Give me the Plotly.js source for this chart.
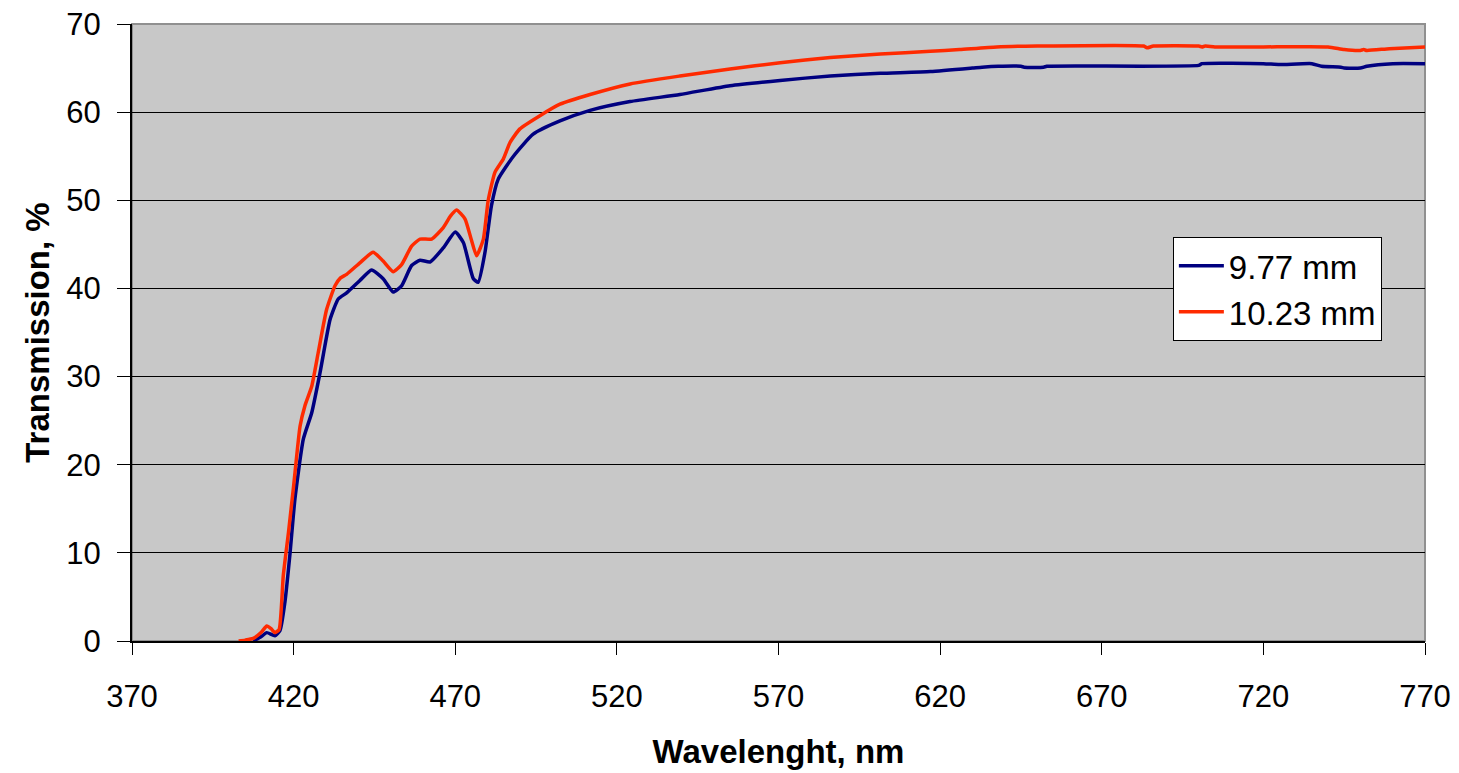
<!DOCTYPE html>
<html>
<head>
<meta charset="utf-8">
<script src="https://cdn.plot.ly/plotly-3.0.1.min.js"></script>
<style>html,body{margin:0;padding:0;background:#fff;}#chart{width:1459px;height:773px;}</style>
</head>
<body>
<div id="chart"></div>
<script>
var seriesNames = ["9.77 mm", "10.23 mm"];

var blueX = [407.5,410,411.7,414.2,415.8,417.3,418.9,420.4,423,425.6,428.2,431.3,433.8,436.4,440.5,444.1,447.7,450.8,453.4,456.5,459.1,462.2,466.3,470,472.5,475.6,477.1,479.2,481.2,483.3,488,494.1,502.4,511.7,524.1,539.5,555,570.5,586,601.5,617,630,633,638,645,646,652,653,700,701,720,725,735,738,744,745,750,752,760,770];
var blueY = [0,0.5,0.95,0.6,1.2,4.4,10,16.1,22.9,25.9,30.5,36.5,38.8,39.5,40.9,42.1,41.1,39.6,40.3,42.6,43.2,43.0,44.6,46.4,45.2,41.1,40.7,44.1,49.4,52.4,55.0,57.5,59.0,60.2,61.2,62.0,63.0,63.6,64.1,64.4,64.6,65.0,65.1,65.2,65.2,65.1,65.1,65.2,65.3,65.5,65.5,65.4,65.5,65.2,65.1,65.0,65.0,65.2,65.5,65.5];

var redX = [403,405,407.5,410,411.7,413,414.2,415.5,416.8,418.4,420,422,423.5,425.6,427.6,430.2,432.8,434.5,436.4,440.5,444.6,447.7,450.8,453.4,456.5,459.1,462.7,466.3,468.5,470.4,473,475,476.6,478.7,480.2,482.3,484.9,487,490,496.2,502.4,511.7,524.1,539.5,555,570.5,586,601.5,617,626,637.5,650,683,684,686,700,701,702,705,720,740,745,750,751,752,759,770];
var redY = [0,0.1,0.3,1.0,1.7,1.4,0.95,1.3,7.4,12.3,17.6,24.4,26.7,28.9,32.7,37.6,40.3,41.2,41.6,42.9,44.1,43.1,41.9,42.7,44.8,45.6,45.6,46.9,48.2,48.9,47.9,45.5,43.7,45.6,50,53.2,54.7,56.6,58.1,59.6,60.9,62.0,63.2,64.1,64.9,65.6,66.2,66.6,66.9,67.1,67.4,67.5,67.5,67.3,67.5,67.5,67.4,67.5,67.4,67.4,67.4,67.1,67.0,67.1,67.0,67.2,67.4];

var xTicks = [370,420,470,520,570,620,670,720,770];
var yTicks = [0,10,20,30,40,50,60,70];

var FONT = "Liberation Sans, Arial, sans-serif";

var traces = [
  {x: blueX, y: blueY, name: seriesNames[0], type: "scatter", mode: "lines",
   line: {color: "#000080", width: 3.5, shape: "spline", smoothing: 0.5}},
  {x: redX, y: redY, name: seriesNames[1], type: "scatter", mode: "lines",
   line: {color: "#ff2a00", width: 3.5, shape: "spline", smoothing: 0.5}}
];

var layout = {
  width: 1459, height: 773,
  margin: {l: 132, r: 34, t: 24, b: 132},
  paper_bgcolor: "#ffffff",
  plot_bgcolor: "#c8c8c8",
  font: {family: FONT, size: 32, color: "#000"},
  showlegend: true,
  legend: {
    x: 0.805, y: 0.655, xanchor: "left", yanchor: "top",
    bgcolor: "#ffffff", bordercolor: "#000000", borderwidth: 1,
    font: {family: FONT, size: 33, color: "#000"},
    itemwidth: 45,
    tracegroupgap: 0
  },
  xaxis: {
    range: [370, 770], tickvals: xTicks, ticktext: xTicks.map(String),
    showgrid: false, zeroline: false,
    showline: true, linecolor: "#000", linewidth: 2,
    ticks: "outside", ticklen: 12, tickwidth: 1, tickcolor: "#000",
    ticklabelstandoff: 15,
    tickfont: {family: FONT, size: 31, color: "#000"},
    title: {text: "<b>Wavelenght, nm</b>", font: {family: FONT, size: 33, color: "#000"}, standoff: 27},
    automargin: false
  },
  yaxis: {
    range: [0, 70], tickvals: yTicks, ticktext: yTicks.map(String),
    showgrid: true, gridcolor: "#000", gridwidth: 1, zeroline: false,
    showline: true, linecolor: "#000", linewidth: 2,
    ticks: "outside", ticklen: 13, tickwidth: 1, tickcolor: "#000",
    ticklabelstandoff: 10,
    tickfont: {family: FONT, size: 31, color: "#000"},
    title: {text: "<b>Transmission, %</b>", font: {family: FONT, size: 33, color: "#000"}, standoff: 7},
    automargin: false
  },
  shapes: [
    {type: "rect", xref: "paper", yref: "paper", x0: 0, x1: 1, y0: 0, y1: 1,
     line: {color: "#909090", width: 2}, layer: "below"}
  ]
};

Plotly.newPlot("chart", traces, layout, {displayModeBar: false, staticPlot: true});
</script>
</body>
</html>
